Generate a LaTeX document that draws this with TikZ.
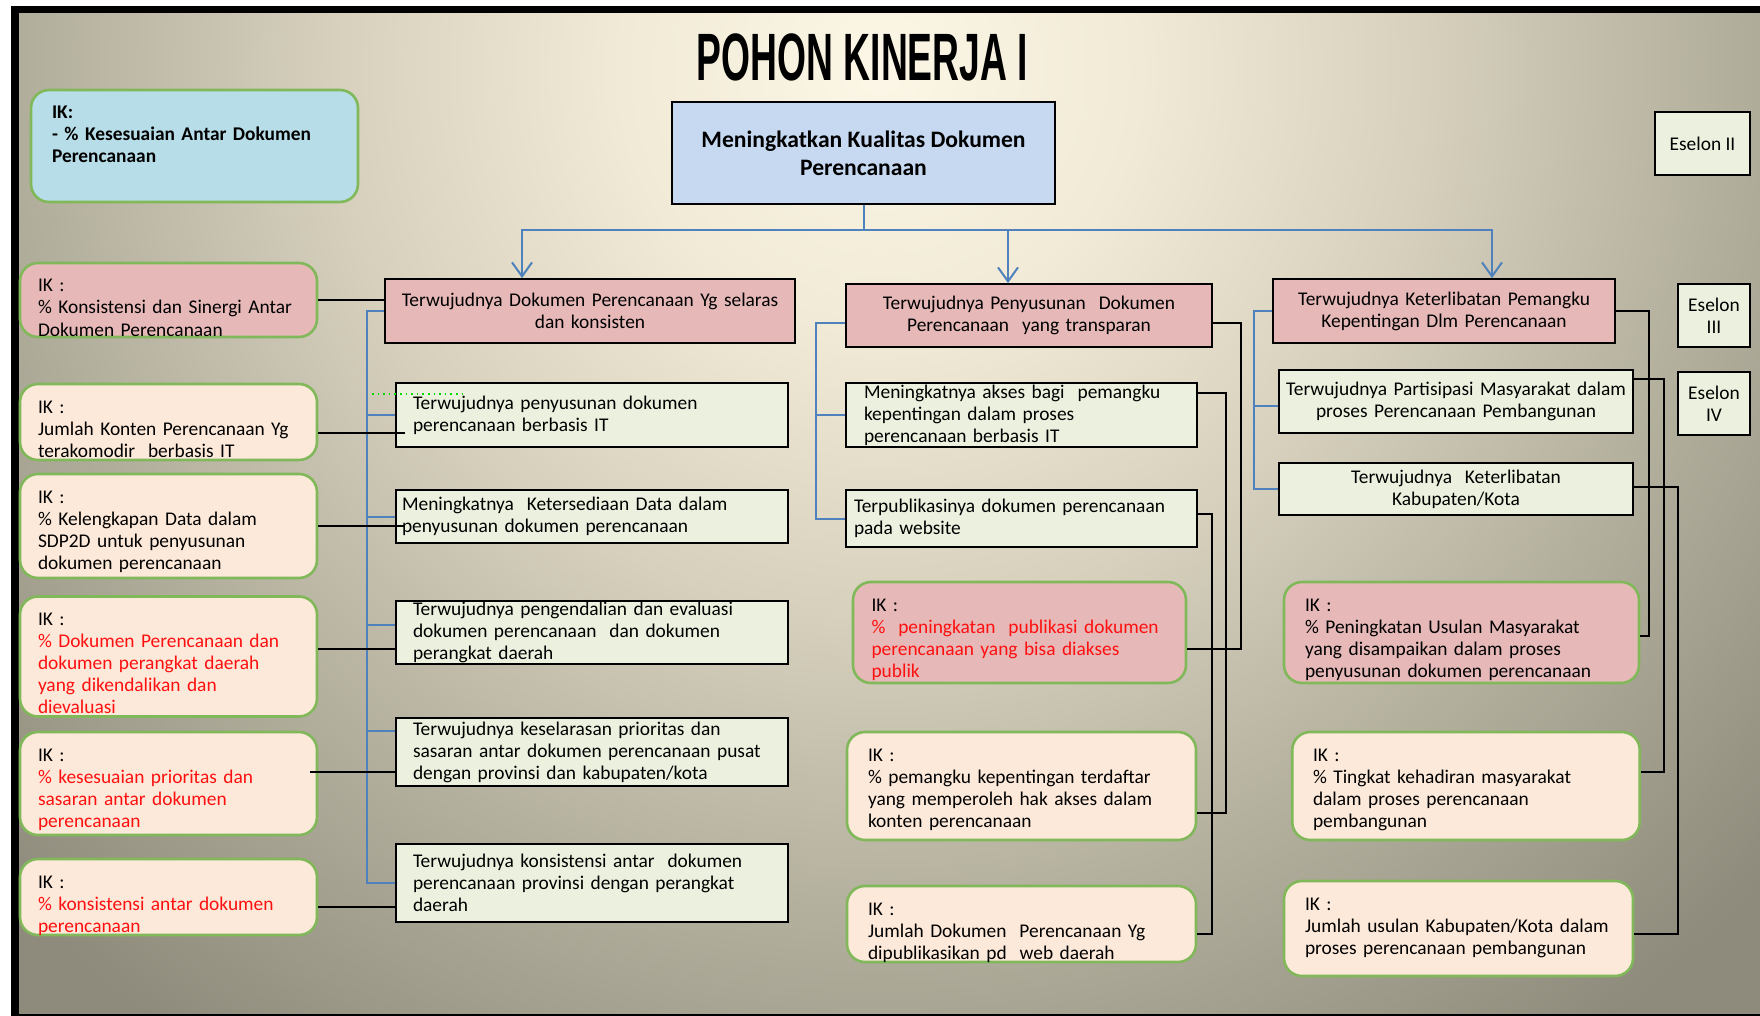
\documentclass[tikz,border=0pt]{standalone}
\usepackage{fontspec}
\setmainfont{Carlito}
\newfontfamily\titlefont{Liberation Sans}
\usepackage{tikz}
\usetikzlibrary{arrows.meta,calc,positioning}

\definecolor{goalblue}{HTML}{C6D9F1}
\definecolor{ikcyan}{HTML}{B7DEE8}
\definecolor{ikpink}{HTML}{E6B9B8}
\definecolor{ikpeach}{HTML}{FDE9D9}
\definecolor{tierfill}{HTML}{EBF1DE}
\definecolor{ikgreen}{HTML}{80B85A}
\definecolor{linkblue}{HTML}{4F81BD}
\definecolor{iktext}{HTML}{FF1010}
\definecolor{bgA}{HTML}{FCF7E6}
\definecolor{bgB}{HTML}{F0EAD6}
\definecolor{bgC}{HTML}{D6D0BD}
\definecolor{bgD}{HTML}{B2AE9C}
\definecolor{bgE}{HTML}{8F8B7C}
\pgfdeclareradialshading{bgglow}{\pgfpoint{0bp}{0bp}}{color(0bp)=(bgA); color(5bp)=(bgB); color(10.5bp)=(bgC); color(16.5bp)=(bgD); color(23bp)=(bgE); color(50bp)=(bgE)}

\newcommand\boxfont{\fontsize{9.7}{11}\selectfont}
\newcommand\goalfont{\fontsize{11.8}{14}\selectfont\bfseries}

\begin{document}
\begin{tikzpicture}[x=0.5pt,y=-0.5pt,node distance=11.5pt,
  >={Straight Barb[length=7pt,width=10pt]},
  box/.style={draw=black,line width=0.9pt,inner sep=0pt,font=\boxfont},
  goal/.style={box,fill=ikpink,align=center},
  tier/.style={box,fill=tierfill,align=left},
  ik/.style={draw=ikgreen,line width=1.3pt,rounded corners=9pt,fill=ikpeach,inner sep=0pt,align=left,font=\boxfont,text height=14.5pt},
  bline/.style={draw=linkblue,line width=1pt},
  kline/.style={draw=black,line width=0.9pt}]

  \useasboundingbox (0,0) rectangle (1760,1016);
  % frame and background
  \fill[white] (0,0) rectangle (1760,1016);
  \fill[black] (11,6) rectangle (1760,1016);
  \begin{scope}
    \clip (19,14) rectangle (1760,1013);
    \shade[shading=bgglow] (880,70) circle (1300);
  \end{scope}

  \node[font={\titlefont\fontsize{33.5}{36}\selectfont\bfseries}] (title) at (862.5,57) {\scalebox{0.556}[1]{POHON KINERJA I}};

  \node[box,fill=goalblue,minimum width=191.5pt,minimum height=51pt,align=center,font=\goalfont] (goal) at (863.5,153) {Meningkatkan Kualitas Dokumen\\Perencanaan};
  \node[ik,fill=ikcyan,minimum width=163.5pt,text depth=41.5pt,text width=142.5pt,font=\boxfont\bfseries] (ikgoal) at (194.5,146) {IK:\\- \% Kesesuaian Antar Dokumen\\Perencanaan};

  \node[box,fill=tierfill,minimum width=47.5pt,minimum height=31.5pt] (es2) at (1702.5,143.5) {Eselon II};
  \node[box,fill=tierfill,minimum width=36pt,minimum height=31.5pt,align=center] (es3) at (1714,315.5) {Eselon\\III};
  \node[box,fill=tierfill,minimum width=36pt,minimum height=31.5pt,align=center] (es4) [below=of es3] {Eselon\\IV};

  % sasaran
  \node[goal,minimum width=205pt,minimum height=32pt,text width=200pt] (A) at (590,311) {Terwujudnya Dokumen Perencanaan Yg selaras\\dan konsisten};
  \node[goal,minimum width=183pt,minimum height=31.5pt,text width=178pt] (B) at (1029,315.5) {Terwujudnya Penyusunan~ Dokumen\\Perencanaan~ yang transparan};
  \node[goal,minimum width=171pt,minimum height=32pt,text width=166pt] (C) at (1444,311) {Terwujudnya Keterlibatan Pemangku\\Kepentingan Dlm Perencanaan};

  % left column
  \node[tier,minimum width=196pt,minimum height=32pt,text width=179pt] (a1) at (592,415) {Terwujudnya penyusunan dokumen\\perencanaan berbasis IT};
  \node[tier,minimum width=196pt,minimum height=26.5pt,text width=190pt] (a2) at (592,516.5) {Meningkatnya~ Ketersediaan Data dalam\\penyusunan dokumen perencanaan};
  \node[tier,minimum width=196pt,minimum height=31.5pt,text width=179pt] (a3) at (592,632.5) {Terwujudnya pengendalian dan evaluasi\\dokumen perencanaan~ dan dokumen\\perangkat daerah};
  \node[tier,minimum width=196pt,minimum height=34pt,text width=179pt] (a4) at (592,752) {Terwujudnya keselarasan prioritas dan\\sasaran antar dokumen perencanaan pusat\\dengan provinsi dan kabupaten/kota};
  \node[tier,minimum width=196pt,minimum height=39pt,text width=179pt] (a5) at (592,883) {Terwujudnya konsistensi antar~ dokumen\\perencanaan provinsi dengan perangkat\\daerah};

  \node[ik,fill=ikpink,minimum width=148.5pt,text depth=22.5pt,text width=130.5pt] (ik1) at (168.5,300) {IK :\\\% Konsistensi dan Sinergi Antar\\Dokumen Perencanaan};
  \node[ik,minimum width=148.5pt,text depth=23.5pt,text width=130.5pt] (ik2) at (168.5,422) {IK :\\Jumlah Konten Perencanaan Yg\\terakomodir~ berbasis IT};
  \node[ik,minimum width=148.5pt,text depth=37.5pt,text width=130.5pt] (ik3) at (168.5,526) {IK :\\\% Kelengkapan Data dalam\\SDP2D untuk penyusunan\\dokumen perencanaan};
  \node[ik,minimum width=148.5pt,text depth=45.5pt,text width=130.5pt] (ik4) at (168.5,656.5) {IK :\\\color{iktext}\% Dokumen Perencanaan dan\\dokumen perangkat daerah\\yang dikendalikan dan\\dievaluasi};
  \node[ik,minimum width=148.5pt,text depth=37pt,text width=130.5pt] (ik5) at (168.5,783.5) {IK :\\\color{iktext}\% kesesuaian prioritas dan\\sasaran antar dokumen\\perencanaan};
  \node[ik,minimum width=148.5pt,text depth=23.5pt,text width=130.5pt] (ik6) at (168.5,897) {IK :\\\color{iktext}\% konsistensi antar dokumen\\perencanaan};

  % middle column
  \node[tier,minimum width=175.5pt,minimum height=32pt,text width=157.5pt] (b1) at (1021.5,415) {Meningkatnya akses bagi~ pemangku\\kepentingan dalam proses\\perencanaan berbasis IT};
  \node[tier,minimum width=175.5pt,minimum height=28.5pt,text width=167.5pt] (b2) at (1021.5,518.5) {Terpublikasinya dokumen perencanaan\\pada website};

  \node[ik,fill=ikpink,minimum width=166.5pt,text depth=36pt,text width=148pt] (m1) at (1019.5,632.5) {IK :\\\color{iktext}\%~ peningkatan~ publikasi dokumen\\perencanaan yang bisa diakses\\publik};
  \node[ik,minimum width=174.5pt,text depth=39.5pt,text width=153.5pt] (m2) at (1021.5,786) {IK :\\\% pemangku kepentingan terdaftar\\yang memperoleh hak akses dalam\\konten perencanaan};
  \node[ik,minimum width=174.5pt,text depth=23.5pt,text width=153.5pt] (m3) at (1021.5,924) {IK :\\Jumlah Dokumen~ Perencanaan Yg\\dipublikasikan pd~ web daerah};

  % right column
  \node[tier,align=center,minimum width=177pt,minimum height=31.5pt,text width=172pt] (c1) at (1456,401.5) {Terwujudnya Partisipasi Masyarakat dalam\\proses Perencanaan Pembangunan};
  \node[tier,align=center,minimum width=177pt,minimum height=26pt,text width=172pt] (c2) at (1456,489) {Terwujudnya~ Keterlibatan\\Kabupaten/Kota};

  \node[ik,fill=ikpink,minimum width=177.5pt,text depth=36pt,text width=156.5pt] (r1) at (1461.5,632.5) {IK :\\\% Peningkatan Usulan Masyarakat\\yang disampaikan dalam proses\\penyusunan dokumen perencanaan};
  \node[ik,minimum width=173.75pt,text depth=39.5pt,text width=153pt] (r2) at (1466,786) {IK :\\\% Tingkat kehadiran masyarakat\\dalam proses perencanaan\\pembangunan};
  \node[ik,minimum width=174.5pt,text depth=33pt,text width=153.5pt] (r3) at (1458.5,928.5) {IK :\\Jumlah usulan Kabupaten/Kota dalam\\proses perencanaan pembangunan};

  % tree links
  \draw[bline,->] (goal.south) -- ++(0,25) -| ([xshift=-34pt]A.north);
  \draw[bline,->] (goal.south) -- ++(0,25) -| ([xshift=-10.5pt]B.north);
  \draw[bline,->] (goal.south) -- ++(0,25) -| ([xshift=24pt]C.north);

  \draw[bline] (A.west) -- ++(-17,0) |- (a5.west);
  \draw[bline] (a1.west) -- ++(-28,0);
  \draw[bline] (a2.west) -- ++(-28,0);
  \draw[bline] ($(a3.west)+(0,-8)$) -- ++(-28,0);
  \draw[bline] ($(a4.west)+(0,-21)$) -- ++(-28,0);

  \draw[bline] ($(B.west)+(0,7.5)$) -- ++(-29,0) |- (b2.west);
  \draw[bline] (b1.west) -- ++(-29,0);

  \draw[bline] (C.west) -- ++(-18,0) |- (c2.west);
  \draw[bline] ($(c1.west)+(0,4.5)$) -- ++(-24,0);

  \draw[green!85!black,dotted,line width=0.8pt] (372,394) -- (467,394);

  % indikator links
  \draw[kline] (ik1.east) -- (ik1.east -| A.west);
  \draw[kline] ($(ik2.east)+(0,11)$) -- ++(87,0);
  \draw[kline] (ik3.east) -- ++(87,0);
  \draw[kline] ($(ik4.east)+(0,-7.5)$) -- ++(79,0);
  \draw[kline] ($(ik5.east)+(-8,-11.5)$) -- ++(87,0);
  \draw[kline] ($(ik6.east)+(0,10)$) -- ++(79,0);

  \draw[kline] ($(B.east)+(0,7.5)$) -- ++(28,0) |- ($(m1.east)+(0,16.5)$);
  \draw[kline] ($(b1.east)+(0,-22)$) -- ++(28,0) |- ($(m2.east)+(0,27)$);
  \draw[kline] ($(b2.east)+(0,-4.5)$) -- ++(14,0) |- ($(m3.east)+(0,10)$);

  \draw[kline] (C.east) -- ++(33,0) |- ($(r1.east)+(0,3.5)$);
  \draw[kline] ($(c1.east)+(0,-22.5)$) -- ++(30,0) |- ($(r2.east)+(0,-14)$);
  \draw[kline] ($(c2.east)+(0,-2)$) -- ++(44,0) |- ($(r3.east)+(0,5.5)$);
\end{tikzpicture}
\end{document}
